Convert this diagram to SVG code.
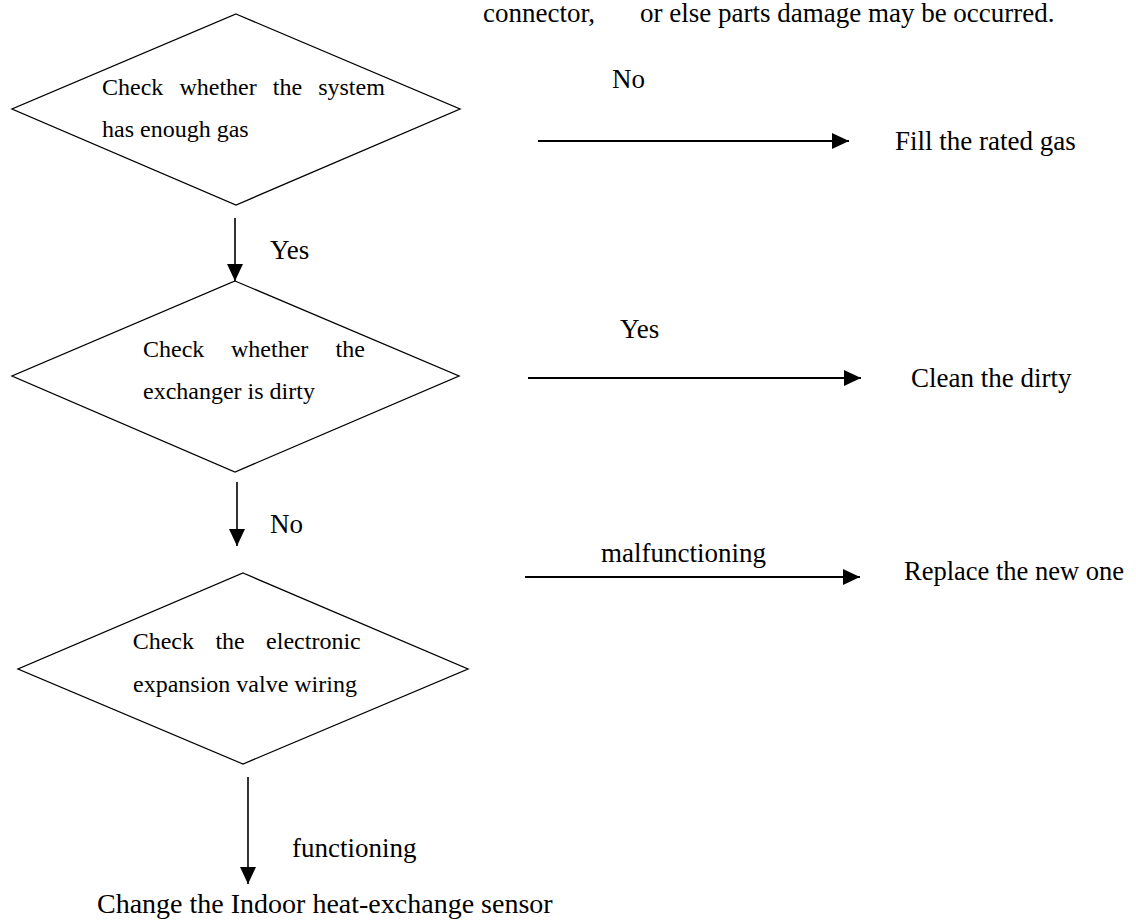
<svg xmlns="http://www.w3.org/2000/svg" width="1136" height="922" viewBox="0 0 1136 922">
<style>
.d{fill:#fff;stroke:#000;stroke-width:1.3}
.c{stroke:#000;stroke-width:1.6;fill:none}
.h{stroke-width:2}
.t{font-family:"Liberation Serif","Times New Roman",serif;font-size:24px;fill:#000}
.l{font-family:"Liberation Serif","Times New Roman",serif;font-size:27px;fill:#000}
</style>
<defs>
<marker id="ah" markerUnits="userSpaceOnUse" markerWidth="17" markerHeight="16" refX="17" refY="8" orient="auto">
<path d="M0,0 L17,8 L0,16 Z" fill="#000"/>
</marker>
</defs>
<rect width="1136" height="922" fill="#fff"/>
<text class="l" x="483" y="22">connector,<tspan x="640">or else parts damage may be occurred.</tspan></text>
<g id="d1">
<polygon class="d" points="236,14 460,109 236,205 12,109"/>
<text class="t" y="95"><tspan x="102">Check</tspan><tspan x="179.4">whether</tspan><tspan x="272.8">the</tspan><tspan x="318.2">system</tspan></text>
<text class="t" x="102" y="137">has enough gas</text>
</g>
<g id="d2">
<polygon class="d" points="235,281 459,376 235,472 12,376"/>
<text class="t" y="357"><tspan x="143">Check</tspan><tspan x="231">whether</tspan><tspan x="335.6">the</tspan></text>
<text class="t" x="143" y="399">exchanger is dirty</text>
</g>
<g id="d3">
<polygon class="d" points="243,573 468,669 243,764 18,669"/>
<text class="t" y="649"><tspan x="132.7">Check</tspan><tspan x="215.4">the</tspan><tspan x="266.1">electronic</tspan></text>
<text class="t" x="133" y="692">expansion valve wiring</text>
</g>
<g id="n-fill"><text class="l" x="895" y="150">Fill the rated gas</text></g>
<g id="n-clean"><text class="l" x="911" y="387">Clean the dirty</text></g>
<g id="n-replace"><text class="l" x="904" y="580" style="font-size:26.5px">Replace the new one</text></g>
<g id="n-change"><text class="l" x="97" y="913" style="font-size:28px">Change the Indoor heat-exchange sensor</text></g>
<g id="connectors">
<line class="c" x1="235" y1="218" x2="235" y2="281" marker-end="url(#ah)"/>
<text class="l" x="270" y="259">Yes</text>
<line class="c" x1="237" y1="482" x2="237" y2="546" marker-end="url(#ah)"/>
<text class="l" x="270" y="533">No</text>
<line class="c" x1="248" y1="777" x2="248" y2="884" marker-end="url(#ah)"/>
<text class="l" x="292" y="857">functioning</text>
<line class="c h" x1="538" y1="141" x2="849" y2="141" marker-end="url(#ah)"/>
<text class="l" x="612" y="88">No</text>
<line class="c h" x1="528" y1="378" x2="861" y2="378" marker-end="url(#ah)"/>
<text class="l" x="620" y="338">Yes</text>
<line class="c h" x1="525" y1="577" x2="860" y2="577" marker-end="url(#ah)"/>
<text class="l" x="601" y="562">malfunctioning</text>
</g>
</svg>
